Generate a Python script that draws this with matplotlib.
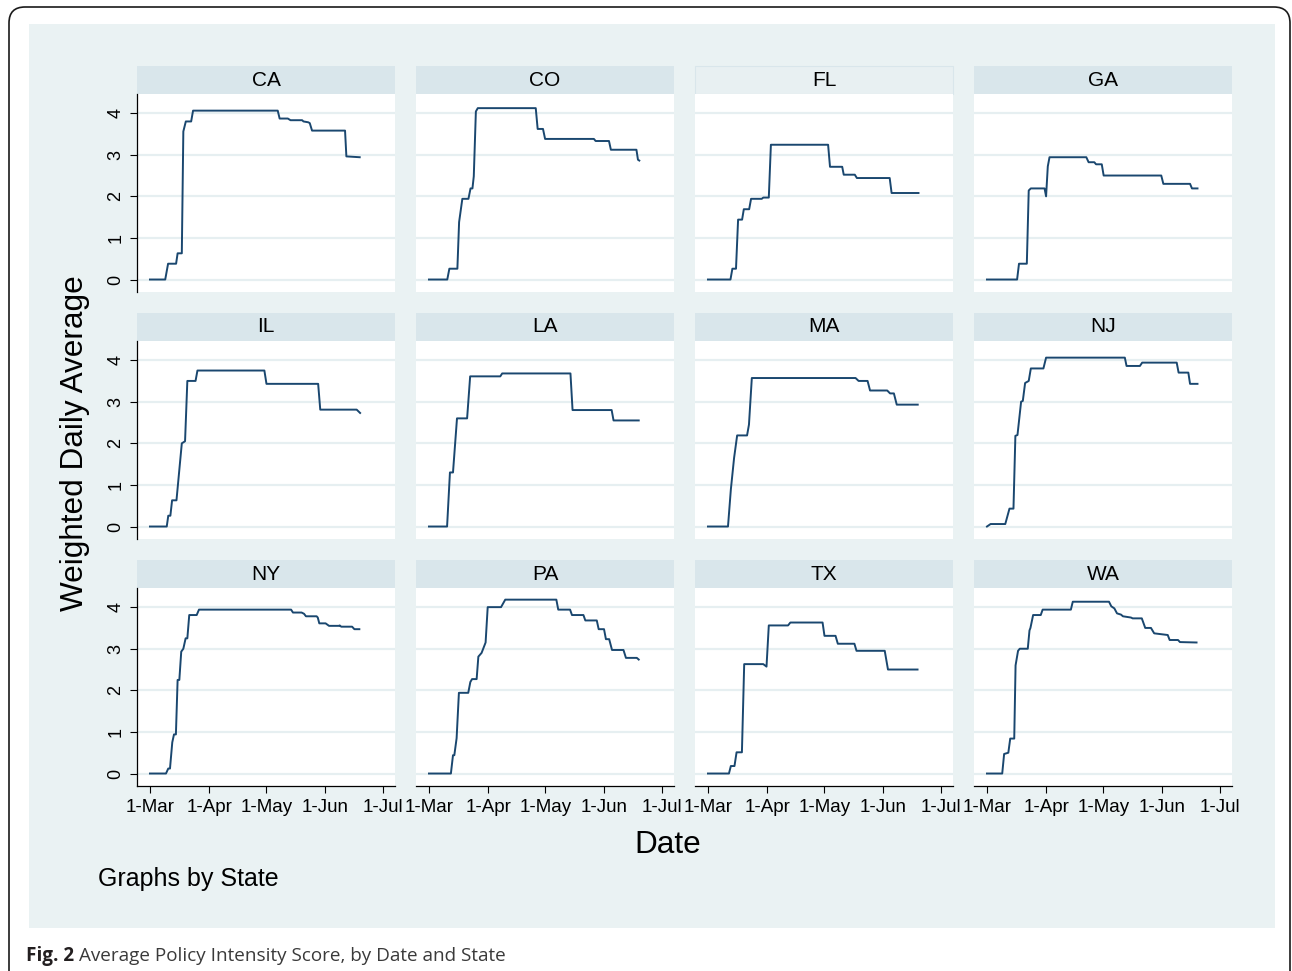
import matplotlib
matplotlib.use("Agg")
import matplotlib.pyplot as plt
from matplotlib.patches import Rectangle, FancyBboxPatch

# days since 1-Mar
states = ["CA", "CO", "FL", "GA", "IL", "LA", "MA", "NJ", "NY", "PA", "TX", "WA"]

ca_x = [0, 8, 9.5, 13.7, 14.5, 16.7, 17.5, 18.8, 21.6, 22.6, 67, 68, 72.3, 73.7, 79.8, 80.5, 83, 83.8, 85, 102.3, 103, 110]
ca_y = [0, 0, 0.38, 0.38, 0.63, 0.63, 3.56, 3.8, 3.8, 4.06, 4.06, 3.87, 3.87, 3.83, 3.83, 3.8, 3.78, 3.76, 3.58, 3.58, 2.96, 2.94]

co_x = [0, 9.6, 10.7, 14.9, 15.8, 17.5, 20.7, 21.8, 22.8, 23.5, 24.6, 25.6, 56, 57, 59.8, 60.9, 86.5, 87.4, 94.4, 95.4, 108.8, 109.6, 110.3]
co_y = [0, 0, 0.26, 0.26, 1.38, 1.94, 1.94, 2.19, 2.19, 2.48, 4.04, 4.12, 4.12, 3.62, 3.62, 3.38, 3.38, 3.33, 3.33, 3.12, 3.12, 2.88, 2.86]

fl_x = [0, 11.8, 12.8, 14.7, 15.8, 17.9, 18.8, 21.6, 22.6, 28.2, 29, 31.9, 33, 63, 64, 70.4, 71.2, 77, 78.1, 95.3, 96.3, 110.4]
fl_y = [0, 0, 0.26, 0.26, 1.44, 1.44, 1.69, 1.69, 1.94, 1.94, 1.97, 1.97, 3.24, 3.24, 2.71, 2.71, 2.52, 2.52, 2.44, 2.44, 2.08, 2.08]

ga_x = [0, 15.8, 16.8, 20.9, 21.9, 23, 30.2, 31, 31.9, 32.8, 52.1, 53.3, 56.3, 57.2, 60.2, 61.2, 91.4, 92.5, 106.5, 107.5, 110.4]
ga_y = [0, 0, 0.38, 0.38, 2.14, 2.19, 2.19, 2.0, 2.72, 2.94, 2.94, 2.82, 2.82, 2.77, 2.77, 2.5, 2.5, 2.3, 2.3, 2.19, 2.19]

il_x = [0, 8.8, 9.6, 10.7, 11.6, 13.9, 16.7, 18.4, 19.6, 23.9, 24.9, 60, 61.1, 88.2, 89.3, 108.4, 110.2]
il_y = [0, 0, 0.26, 0.26, 0.63, 0.63, 2.0, 2.05, 3.5, 3.5, 3.75, 3.75, 3.43, 3.43, 2.81, 2.81, 2.73]

la_x = [0, 9.5, 11, 12.6, 14.7, 20, 21.6, 37.4, 38.4, 74.2, 75.3, 95.8, 96.8, 110]
la_y = [0, 0, 1.3, 1.3, 2.6, 2.6, 3.61, 3.61, 3.68, 3.68, 2.8, 2.8, 2.55, 2.55]

ma_x = [0, 10.5, 12, 13.7, 15.3, 20.5, 21.5, 23, 77.4, 79, 83.7, 85, 94, 95.5, 97.5, 99, 110]
ma_y = [0, 0, 0.89, 1.65, 2.19, 2.19, 2.45, 3.57, 3.57, 3.5, 3.5, 3.27, 3.27, 3.2, 3.2, 2.93, 2.93]

nj_x = [0, 1.9, 9.6, 11.8, 13.9, 14.9, 16, 17.9, 18.8, 20, 21.9, 23, 29.6, 31, 72.3, 73.2, 80.2, 81.4, 99.5, 100.5, 105.6, 106.5, 110.4]
nj_y = [0, 0.06, 0.06, 0.43, 0.43, 2.18, 2.2, 3.0, 3.02, 3.45, 3.5, 3.8, 3.8, 4.06, 4.06, 3.86, 3.86, 3.94, 3.94, 3.70, 3.70, 3.43, 3.43]

ny_x = [0, 8.4, 9.6, 10.5, 11.7, 12.6, 13.6, 14.5, 15.4, 16.4, 17.5, 18.7, 19.6, 20.6, 24.5, 25.7, 74, 75, 79.5, 80.8, 81.8, 87.4, 88, 88.8, 92.1, 93.9, 99.1, 99.5, 100.3, 106, 107.2, 109.8]
ny_y = [0, 0, 0.12, 0.12, 0.75, 0.94, 0.94, 2.25, 2.25, 2.93, 3.0, 3.25, 3.25, 3.81, 3.81, 3.94, 3.94, 3.87, 3.87, 3.84, 3.78, 3.78, 3.75, 3.61, 3.61, 3.55, 3.55, 3.56, 3.53, 3.53, 3.47, 3.47]

pa_x = [0, 11.5, 12.6, 13.3, 14.5, 15.7, 20.6, 21.7, 22.6, 25, 25.9, 27.6, 29.7, 30.8, 37.8, 40, 66.8, 67.8, 74, 75, 81, 82, 88, 89, 91.8, 92.8, 94.5, 96, 102, 103.3, 109, 110]
pa_y = [0, 0, 0.44, 0.44, 0.85, 1.94, 1.94, 2.2, 2.27, 2.27, 2.81, 2.9, 3.15, 4.0, 4.0, 4.18, 4.18, 3.94, 3.94, 3.81, 3.81, 3.68, 3.68, 3.47, 3.47, 3.23, 3.23, 2.97, 2.97, 2.78, 2.78, 2.74]

tx_x = [0, 11, 12, 13.9, 15, 17.8, 19, 29, 30.7, 31.9, 42, 43.2, 60.1, 61.1, 66.9, 68.1, 76.8, 77.9, 92.7, 94.4, 109.9]
tx_y = [0, 0, 0.18, 0.18, 0.51, 0.51, 2.63, 2.63, 2.57, 3.56, 3.56, 3.63, 3.63, 3.31, 3.31, 3.12, 3.12, 2.95, 2.95, 2.5, 2.5]

wa_x = [0, 8, 9, 11.2, 12.2, 14.3, 15, 16.3, 17.2, 21.4, 22.3, 22.8, 24.2, 28.2, 29.2, 44, 45, 64, 65.2, 66.8, 68.2, 70.3, 71.3, 75.5, 76.4, 81.2, 83, 86, 87.7, 94.8, 95.8, 100.2, 101.2, 109.9]
wa_y = [0, 0, 0.47, 0.5, 0.84, 0.84, 2.6, 2.95, 3.0, 3.0, 3.44, 3.5, 3.81, 3.81, 3.94, 3.94, 4.13, 4.13, 4.02, 3.97, 3.85, 3.82, 3.78, 3.75, 3.73, 3.73, 3.5, 3.5, 3.37, 3.33, 3.21, 3.21, 3.16, 3.15]

series = [(ca_x, ca_y), (co_x, co_y), (fl_x, fl_y), (ga_x, ga_y),
          (il_x, il_y), (la_x, la_y), (ma_x, ma_y), (nj_x, nj_y),
          (ny_x, ny_y), (pa_x, pa_y), (tx_x, tx_y), (wa_x, wa_y)]

month_ticks = [0, 31, 61, 92, 122]
month_labels = ["1-Mar", "1-Apr", "1-May", "1-Jun", "1-Jul"]
y_ticks = [0, 1, 2, 3, 4]

W, H = 1292, 971
BG = "#eaf2f3"
STRIP = "#d9e6eb"
NAVY = "#1a476f"
FONT = "Liberation Sans"

fig = plt.figure(figsize=(W / 100, H / 100), dpi=100)
fig.patch.set_facecolor("white")


def fx(x):
    return x / W


def fy(y):
    return 1 - y / H


# outer rounded frame and light background
frame = FancyBboxPatch((9 / 100, -0.3), (1290 - 9) / 100, (H - 7) / 100 + 0.3,
                       boxstyle="round,pad=0,rounding_size=0.16",
                       transform=fig.dpi_scale_trans, facecolor="white",
                       edgecolor="#1a1a1a", linewidth=1.2, zorder=0)
fig.patches.append(frame)
fig.patches.append(Rectangle((fx(29), fy(928)), fx(1275 - 29), (928 - 24) / H,
                             transform=fig.transFigure, facecolor=BG,
                             edgecolor="none", zorder=0.5))

for i, st in enumerate(states):
    r, c = divmod(i, 4)
    left = 137 + 279 * c
    top = 94 + 247 * r
    w, h = 258, 198
    ax = fig.add_axes([fx(left), fy(top + h), w / W, h / H])
    ax.set_zorder(2)
    ax.set_facecolor("white")

    # header strip
    if st == "FL":
        fig.patches.append(Rectangle((fx(left), fy(top)), w / W, 28 / H,
                                     transform=fig.transFigure, facecolor="#e8f0f2",
                                     edgecolor=STRIP, linewidth=0.8, zorder=1))
    else:
        fig.patches.append(Rectangle((fx(left), fy(top)), w / W, 28 / H,
                                     transform=fig.transFigure, facecolor=STRIP,
                                     edgecolor="none", zorder=1))
    fig.text(fx(left + w / 2), fy(top - 14), st, ha="center", va="center",
             fontsize=15, family=FONT, color="black")

    xs, ys = series[i]
    ax.plot(xs, ys, color=NAVY, linewidth=1.4, zorder=3)

    ax.set_xlim(-6.8, 128.5)
    ax.set_ylim(-0.3, 4.46)
    ax.set_yticks(y_ticks)
    ax.set_xticks(month_ticks)
    ax.grid(axis="y", color="#e6eff1", linewidth=1.6, zorder=1)
    ax.grid(axis="x", visible=False)
    for s in ax.spines.values():
        s.set_visible(False)

    if c == 0:
        ax.spines["left"].set_visible(True)
        ax.spines["left"].set_linewidth(0.9)
        ax.set_yticklabels([str(v) for v in y_ticks], rotation=90,
                           va="center", family=FONT, fontsize=13)
        ax.tick_params(axis="y", length=5, width=0.8, pad=4)
    else:
        ax.tick_params(axis="y", left=False, labelleft=False)

    if r == 2:
        ax.spines["bottom"].set_visible(True)
        ax.spines["bottom"].set_linewidth(0.9)
        ax.set_xticklabels(month_labels, family=FONT, fontsize=13.5)
        ax.tick_params(axis="x", length=5, width=0.8, pad=4)
    else:
        ax.tick_params(axis="x", bottom=False, labelbottom=False)

fig.text(fx(75), fy(443), "Weighted Daily Average", rotation=90, ha="center",
         va="center", fontsize=22.7, family=FONT)
fig.text(fx(668), fy(845), "Date", ha="center", va="center", fontsize=22.7,
         family=FONT)
fig.text(fx(98), fy(879), "Graphs by State", ha="left", va="center",
         fontsize=18, family=FONT)

# caption
cap1 = fig.text(fx(26), fy(956), "Fig. 2", ha="left", va="center",
                fontsize=13.6, family="Open Sans", fontweight="bold", color="#231f20")
fig.canvas.draw()
bb = cap1.get_window_extent(fig.canvas.get_renderer())
fig.text((bb.x1 + 5) / W, fy(956), "Average Policy Intensity Score, by Date and State",
         ha="left", va="center", fontsize=13.6, family="Open Sans", color="#3a3a3a")

fig.savefig("out.png", dpi=100)
